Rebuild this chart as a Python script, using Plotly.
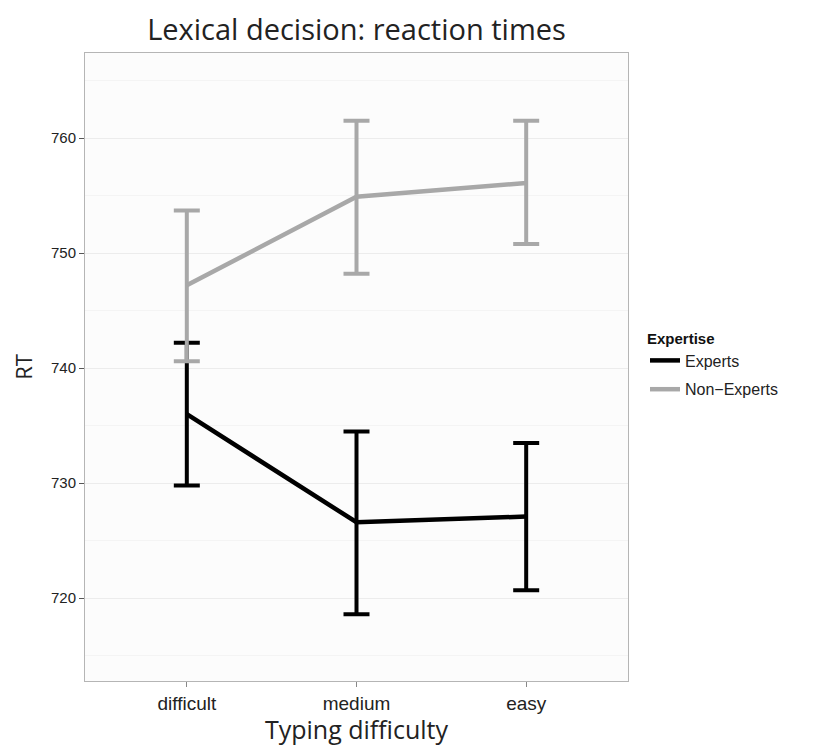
import plotly.graph_objects as go

categories = ["difficult", "medium", "easy"]
experts_mean = [736.0, 726.6, 727.1]
experts_low = [729.8, 718.6, 720.7]
experts_high = [742.2, 734.5, 733.5]
nonexp_mean = [747.2, 754.9, 756.1]
nonexp_low = [740.6, 748.2, 750.8]
nonexp_high = [753.7, 761.5, 761.5]
y_ticks = [720, 730, 740, 750, 760]

def err(mean, low, high):
    return dict(type="data", symmetric=False,
                array=[h - m for h, m in zip(high, mean)],
                arrayminus=[m - l for m, l in zip(mean, low)])

fig = go.Figure()
fig.add_trace(go.Scatter(
    x=categories, y=experts_mean, mode="lines", name="Experts", legendgroup="e",
    line=dict(color="#000000", width=4.5),
    error_y=dict(**err(experts_mean, experts_low, experts_high),
                 color="#000000", thickness=4, width=13),
))
fig.add_trace(go.Scatter(
    x=categories, y=nonexp_mean, mode="lines", name="Non\u2212Experts", legendgroup="n",
    line=dict(color="#a8a8a8", width=4.5),
    error_y=dict(**err(nonexp_mean, nonexp_low, nonexp_high),
                 color="#a8a8a8", thickness=4, width=13),
))

W, H = 798, 738
L, R_EDGE, T, B_EDGE = 77, 620, 45, 673

fig.update_layout(
    width=W, height=H,
    margin=dict(l=L, r=W - R_EDGE, t=T, b=H - B_EDGE, autoexpand=False),
    paper_bgcolor="#ffffff",
    plot_bgcolor="#fcfcfc",
    title=dict(text="Lexical decision: reaction times", x=(L + R_EDGE) / 2 / W,
               xanchor="center", y=1 - 22 / H, yanchor="middle",
               font=dict(family="Open Sans", size=29, color="#222222")),
    legend=dict(x=(637 - L) / (R_EDGE - L), y=1 - (316 - T) / (B_EDGE - T),
                xanchor="left", yanchor="top", tracegroupgap=5,
                title=dict(text="<b>Expertise</b>",
                           font=dict(family="Liberation Sans", size=15, color="#111111")),
                font=dict(family="Liberation Sans", size=16, color="#222222"),
                bgcolor="rgba(0,0,0,0)", itemwidth=30),
    showlegend=True,
)
fig.update_xaxes(
    type="category", range=[-0.6, 2.6],
    showgrid=False, ticks="outside", ticklen=5, tickcolor="#888888",
    showline=True, mirror=True, linecolor="#b5b5b5", linewidth=1,
    tickfont=dict(family="Liberation Sans", size=19, color="#222222"),
    title=dict(text="Typing difficulty", standoff=14,
               font=dict(family="Open Sans", size=25, color="#222222")),
)
fig.update_yaxes(
    range=[712.8, 767.4], tickvals=y_ticks,
    showgrid=True, gridcolor="#ececec", gridwidth=1,
    minor=dict(dtick=5, tick0=715, showgrid=True, gridcolor="#f4f4f4", gridwidth=1),
    zeroline=False,
    ticks="outside", ticklen=5, tickcolor="#555555",
    showline=True, mirror=True, linecolor="#b5b5b5", linewidth=1,
    tickfont=dict(family="Liberation Sans", size=15, color="#222222"),
    title=dict(text="RT", standoff=12,
               font=dict(family="Open Sans", size=22, color="#222222")),
)

fig.write_html("out.html")
